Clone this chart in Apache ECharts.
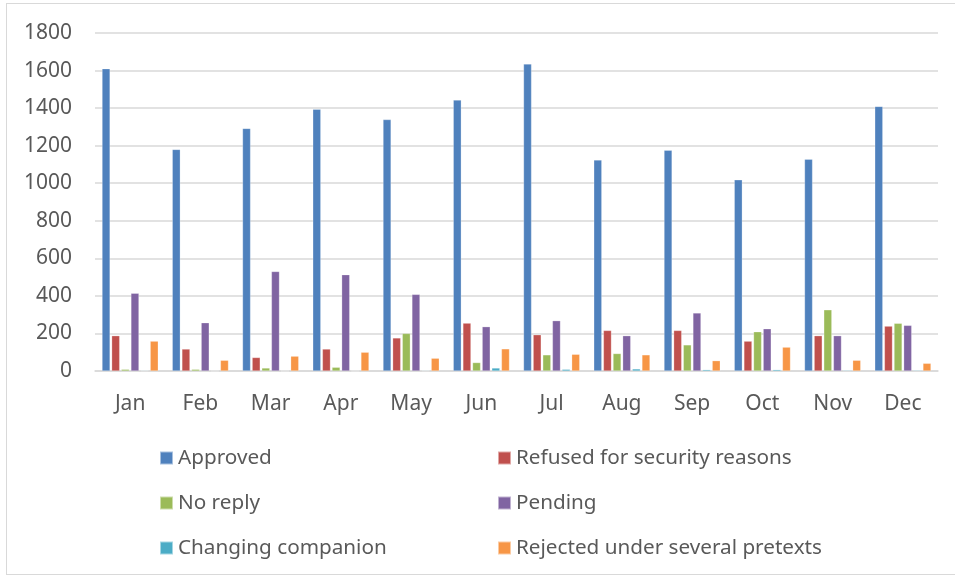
<!DOCTYPE html>
<html>
<head>
<meta charset="utf-8">
<script src="https://cdn.jsdelivr.net/npm/echarts@6/dist/echarts.min.js"></script>
<style>
  html, body { margin: 0; padding: 0; background: #fff; }
  #frame { position: absolute; left: 6px; top: 3px; width: 960px; height: 572px; border: 1px solid #d9d9d9; box-sizing: border-box; }
  #chart { position: absolute; left: 0; top: 0; width: 955px; height: 579px; }
</style>
</head>
<body>
<div id="frame"></div>
<div id="chart"></div>
<script>
const months = ['Jan', 'Feb', 'Mar', 'Apr', 'May', 'Jun', 'Jul', 'Aug', 'Sep', 'Oct', 'Nov', 'Dec']
const approved = [1610, 1180, 1292, 1394, 1339, 1443, 1635, 1124, 1176, 1018, 1128, 1409]
const refused = [188, 117, 72, 117, 176, 255, 193, 216, 216, 159, 188, 239]
const noReply = [9, 9, 16, 20, 200, 45, 86, 93, 139, 209, 326, 254]
const pending = [414, 257, 530, 513, 408, 236, 268, 188, 309, 225, 188, 243]
const changingCompanion = [3, 0, 0, 0, 3, 16, 9, 11, 7, 7, 4, 4]
const rejected = [159, 57, 79, 100, 68, 118, 89, 86, 55, 127, 57, 41]
const yTicks = { min: 0, max: 1800, interval: 200 }

const seriesDefs = [
  { name: 'Approved', data: approved, color: '#4F81BD' },
  { name: 'Refused for security reasons', data: refused, color: '#C0504D' },
  { name: 'No reply', data: noReply, color: '#9BBB59' },
  { name: 'Pending', data: pending, color: '#8064A2' },
  { name: 'Changing companion', data: changingCompanion, color: '#4BACC6' },
  { name: 'Rejected under several pretexts', data: rejected, color: '#F79646' }
]

const textColor = '#595959'
const fontFamily = '"Noto Sans", "Open Sans", sans-serif'

const legendBase = {
  orient: 'vertical',
  top: 441,
  itemWidth: 13,
  itemHeight: 13,
  itemGap: 21,
  icon: 'rect',
  textStyle: { color: textColor, fontSize: 20.7, fontFamily: fontFamily, lineHeight: 24 }
}

const chart = echarts.init(document.getElementById('chart'))
const option = {
  animation: false,
  textStyle: { fontFamily: fontFamily },
  grid: {
    left: 95,
    right: 17,
    top: 33,
    bottom: 208
  },
  legend: [
    Object.assign({}, legendBase, { left: 154, data: ['Approved', 'No reply', 'Changing companion'] }),
    Object.assign({}, legendBase, { left: 492, data: ['Refused for security reasons', 'Pending', 'Rejected under several pretexts'] })
  ],
  xAxis: {
    type: 'category',
    data: months,
    axisTick: { show: false },
    axisLine: { lineStyle: { color: '#d9d9d9', width: 1.5 } },
    axisLabel: { color: textColor, fontSize: 21, margin: 23 }
  },
  yAxis: {
    type: 'value',
    min: yTicks.min,
    max: yTicks.max,
    interval: yTicks.interval,
    axisLine: { show: false },
    axisTick: { show: false },
    splitLine: { lineStyle: { color: '#d9d9d9', width: 1.5 } },
    axisLabel: { color: textColor, fontSize: 21, margin: 23, formatter: v => String(v) }
  },
  series: seriesDefs.map(s => ({
    name: s.name,
    type: 'bar',
    data: s.data,
    barGap: '20%',
    barCategoryGap: '20%',
    itemStyle: { color: s.color, borderColor: 'rgba(255,255,255,0.5)', borderWidth: 0.5 }
  }))
}
chart.setOption(option)
</script>
</body>
</html>
